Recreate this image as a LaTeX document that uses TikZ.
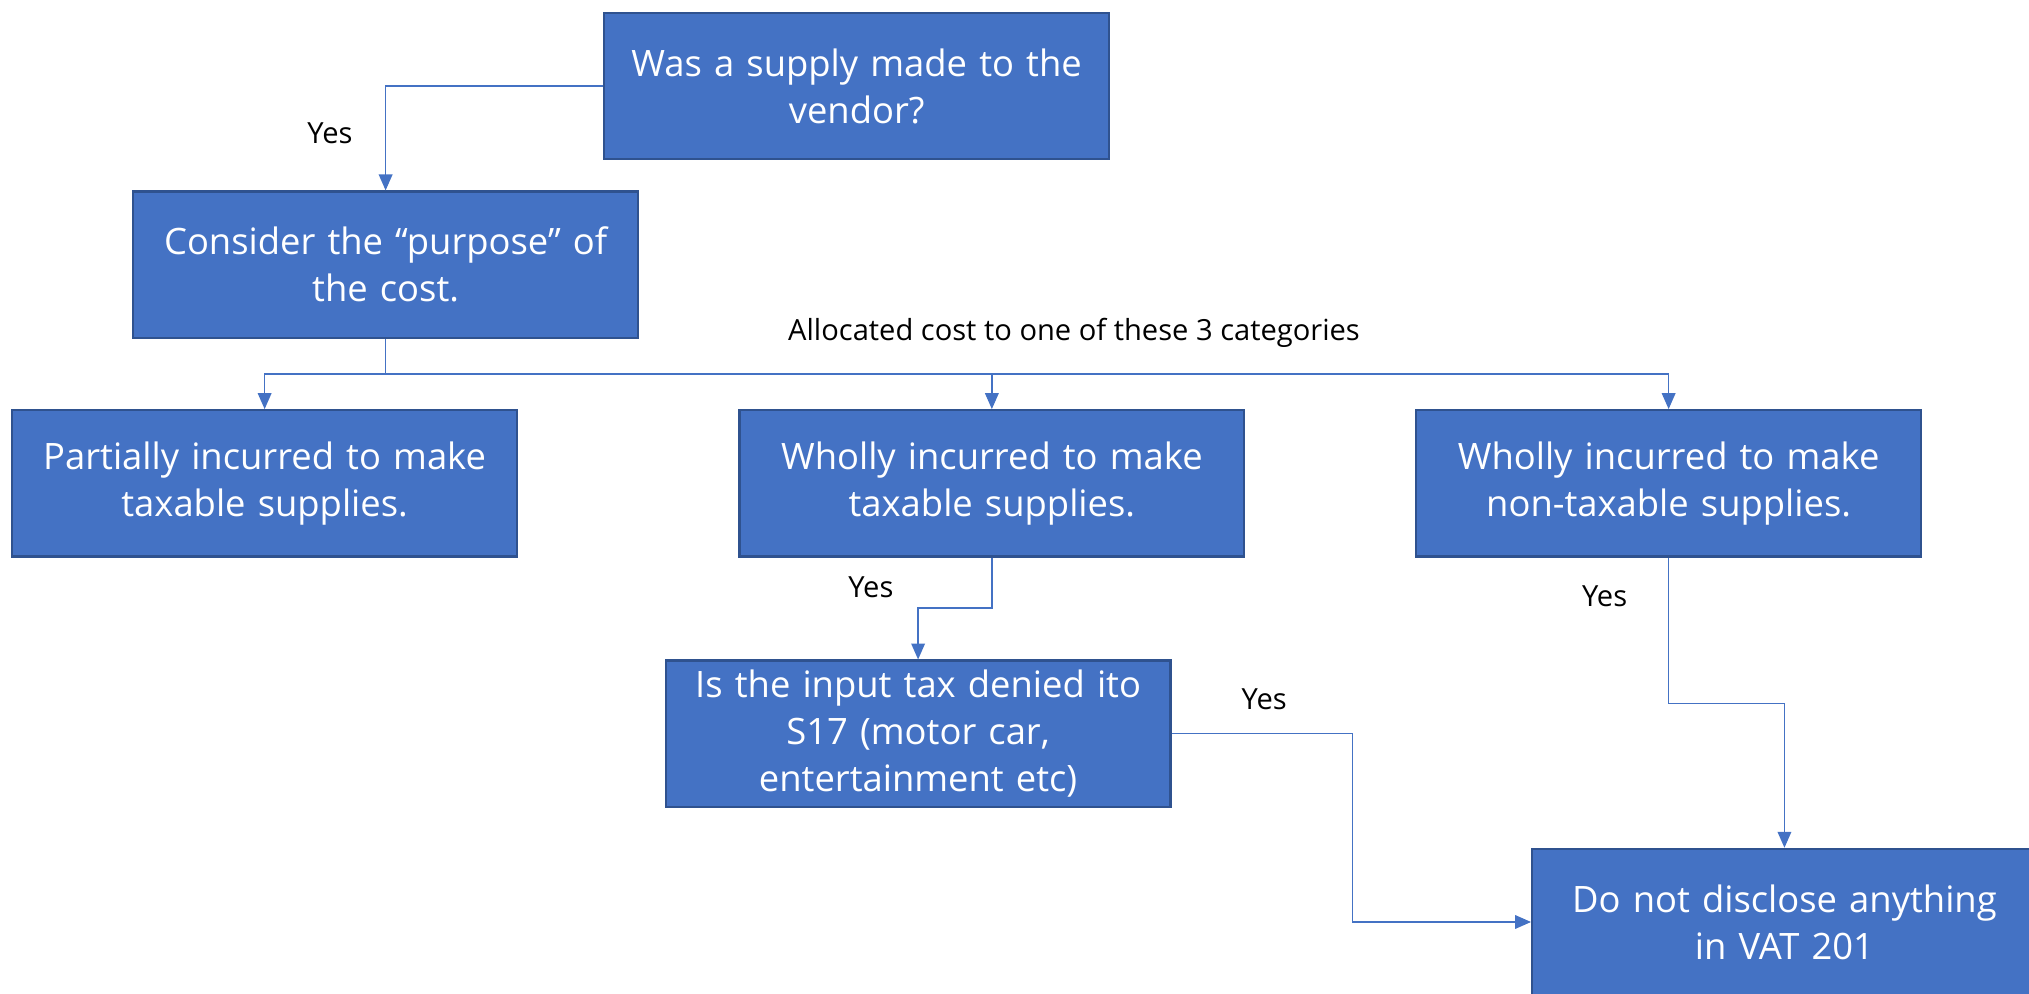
\documentclass[tikz,border=0pt]{standalone}
\usepackage{fontspec}
\setmainfont{Open Sans}
\usetikzlibrary{arrows.meta}
\definecolor{boxblue}{HTML}{4472C4}
\definecolor{boxedge}{HTML}{2F528F}

\begin{document}
\begin{tikzpicture}[x=0.02cm,y=-0.02cm,
  stepbox/.style={draw=boxedge, line width=1pt, fill=boxblue, text=white,
    minimum width=7.8cm, minimum height=2.26cm, text width=7.7cm,
    align=center, inner sep=0pt, font=\fontsize{16}{20.6}\selectfont},
  link/.style={draw=boxblue, line width=0.6pt, -{Triangle[length=7pt,width=6pt]}},
  lbl/.style={font=\fontsize{12.8}{15}\selectfont, text=black}]
\useasboundingbox (0,0) rectangle (1568,768);
\clip (0,0) rectangle (1568,768);

% decision boxes
\node[stepbox] (supply)  at (662,66.5)    {Was a supply made to the\\vendor?};
\node[stepbox] (purpose) at (298,204.5)   {Consider the “purpose” of\\the cost.};
\node[stepbox] (partial) at (204.5,373.5) {Partially incurred to make\\taxable supplies.};
\node[stepbox] (wtax)    at (766.5,373.5) {Wholly incurred to make\\taxable supplies.};
\node[stepbox] (nontax)  at (1289.5,373.5){Wholly incurred to make\\non-taxable supplies.};
\node[stepbox] (s17)     at (709.5,567)   {Is the input tax denied ito\\S17 (motor car,\\entertainment etc)};
\node[stepbox] (nodisc)  at (1379,712.5)  {Do not disclose anything\\in VAT 201};

% connectors
\draw[link] (supply.west) -| (purpose.north);
\coordinate (split) at (298,289);
\draw[draw=boxblue, line width=0.6pt] (purpose.south) -- (split);
\draw[link] (split) -| (partial.north);
\draw[link] (split) -| (wtax.north);
\draw[link] (split) -| (nontax.north);
\draw[link] (wtax.south) -- ++(0,39) -| (s17.north);
\draw[link] (s17.east) -- ++(140,0) |- (nodisc.west);
\draw[link] (nontax.south) -- ++(0,113) -| (nodisc.north);

% labels
\node[lbl] (yes1) at (255,103) {Yes};
\node[lbl] (alloc) at (830,257) {Allocated cost to one of these 3 categories};
\node[lbl] (yes2) at (673,454) {Yes};
\node[lbl] (yes3) at (977,540) {Yes};
\node[lbl] (yes4) at (1240,461) {Yes};
\end{tikzpicture}
\end{document}
